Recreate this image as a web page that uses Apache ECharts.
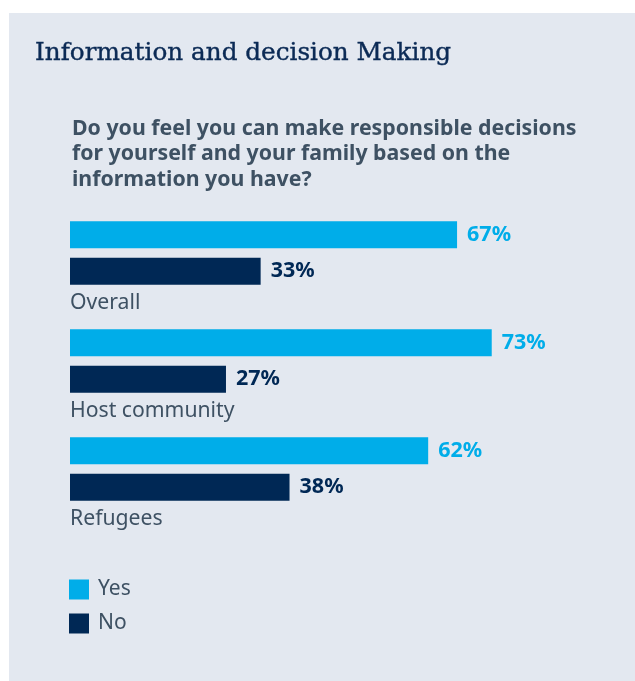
<!DOCTYPE html>
<html>
<head>
<meta charset="utf-8">
<script src="https://cdn.jsdelivr.net/npm/echarts@6/dist/echarts.min.js"></script>
<style>
  html, body { margin: 0; padding: 0; background: #ffffff; }
  #chart { width: 635px; height: 681px; }
</style>
</head>
<body>
<div id="chart"></div>
<script>
// Survey groups (top to bottom) and share of answers per group, in percent
const categories = ['Overall', 'Host community', 'Refugees'];
const yesValues = [67, 73, 62];
const noValues = [33, 27, 38];
const seriesNames = ['Yes', 'No'];

const headline = 'Information and decision Making';
const question = 'Do you feel you can make responsible decisions\nfor yourself and your family based on the\ninformation you have?';

const CYAN = '#00ade9';
const NAVY = '#002855';
const SLATE = '#3e5163';
const PANEL = '#e3e8f0';
const SANS = '"Noto Sans", "Open Sans", sans-serif';

const chart = echarts.init(document.getElementById('chart'));

function barLabel(color) {
  return {
    show: true,
    position: 'right',
    distance: 10,
    formatter: '{c}%',
    color: color,
    fontFamily: SANS,
    fontWeight: 'bold',
    fontSize: 21.5
  };
}

chart.setOption({
  backgroundColor: '#ffffff',
  animation: false,
  graphic: [{
    type: 'rect',
    z: -10,
    silent: true,
    shape: { x: 9, y: 13, width: 626, height: 668 },
    style: { fill: PANEL }
  }],
  title: [{
    text: headline,
    left: 35,
    top: 41,
    padding: 0,
    textStyle: {
      fontFamily: '"DejaVu Serif", serif',
      fontWeight: 'normal',
      fontSize: 24.7,
      color: '#0b2a55',
      textBorderColor: '#0b2a55',
      textBorderWidth: 0.4
    }
  }, {
    text: question,
    left: 72,
    top: 116,
    padding: 0,
    textStyle: {
      fontFamily: SANS,
      fontWeight: 'bold',
      fontSize: 21.3,
      lineHeight: 25.5,
      color: SLATE
    }
  }],
  legend: {
    orient: 'vertical',
    left: 69,
    top: 579,
    padding: 0,
    itemWidth: 20,
    itemHeight: 20,
    itemGap: 13,
    icon: 'rect',
    data: seriesNames,
    textStyle: { fontFamily: SANS, fontSize: 21, color: SLATE, padding: [0, 0, 0, 4] }
  },
  grid: { left: 70, top: 199, right: 0, height: 324, containLabel: false },
  xAxis: {
    type: 'value',
    min: 0,
    max: 97.8,
    show: false,
    splitLine: { show: false }
  },
  yAxis: {
    type: 'category',
    inverse: true,
    data: categories,
    axisLine: { show: false },
    axisTick: { show: false },
    axisLabel: {
      inside: true,
      margin: 0,
      align: 'left',
      verticalAlign: 'top',
      padding: [39, 0, 0, 0],
      fontFamily: SANS,
      fontSize: 21.2,
      color: SLATE
    }
  },
  series: [{
    name: seriesNames[0],
    type: 'bar',
    data: yesValues,
    barWidth: 27,
    barGap: '35%',
    itemStyle: { color: CYAN },
    label: barLabel(CYAN)
  }, {
    name: seriesNames[1],
    type: 'bar',
    data: noValues,
    barWidth: 27,
    barGap: '35%',
    itemStyle: { color: NAVY },
    label: barLabel(NAVY)
  }]
});
</script>
</body>
</html>
